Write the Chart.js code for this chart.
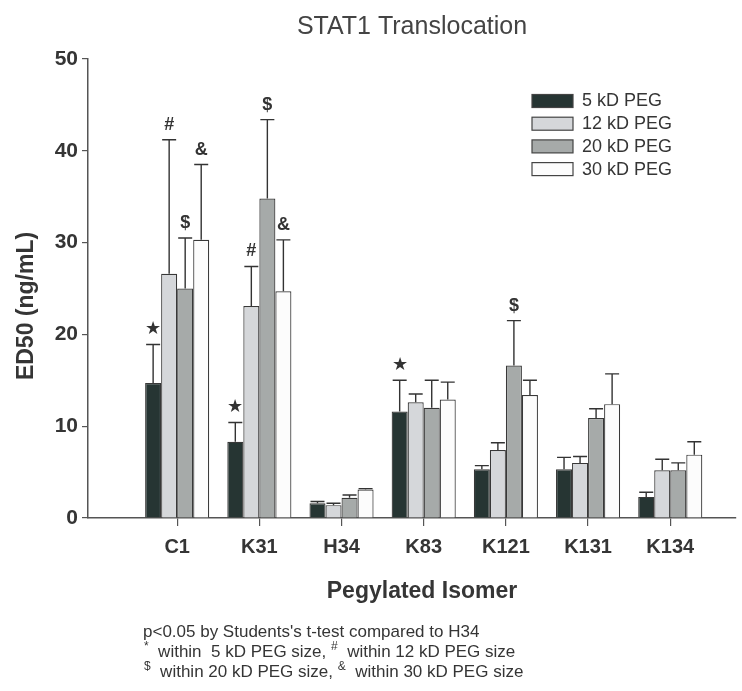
<!DOCTYPE html>
<html>
<head>
<meta charset="utf-8">
<script src="https://cdn.jsdelivr.net/npm/chart.js@4.4.1/dist/chart.umd.min.js"></script>
<style>
  html, body { margin: 0; padding: 0; background: #ffffff; }
  #wrap { width: 742px; height: 691px; }
</style>
</head>
<body>
<div id="wrap"><canvas id="c" width="742" height="691"></canvas></div>
<script>
// Pegylated isomers on the x axis
const isomers = ['C1', 'K31', 'H34', 'K83', 'K121', 'K131', 'K134'];
const seriesNames = ['5 kD PEG', '12 kD PEG', '20 kD PEG', '30 kD PEG'];

// ED50 means (ng/mL)
const ed50_5kD  = [14.7,  8.3, 1.6, 11.6,  5.3,  5.3, 2.3];
const ed50_12kD = [26.6, 23.1, 1.4, 12.6,  7.4,  6.0, 5.2];
const ed50_20kD = [25.0, 34.8, 2.2, 12.0, 16.6, 10.9, 5.2];
const ed50_30kD = [30.3, 24.7, 3.1, 12.9, 13.4, 12.4, 6.9];

// Upper error bar lengths (ng/mL)
const sd_5kD  = [ 4.2, 2.1, 0.2, 3.4, 0.4, 1.3, 0.5];
const sd_12kD = [14.6, 4.3, 0.2, 0.9, 0.8, 0.7, 1.2];
const sd_20kD = [ 5.5, 8.6, 0.3, 3.0, 4.9, 1.0, 0.8];
const sd_30kD = [ 8.2, 5.6, 0.1, 1.9, 1.6, 3.3, 1.4];

// Significance marks (p<0.05 vs H34)
const sig_5kD  = ['★', '★', '', '★', '', '', ''];
const sig_12kD = ['#', '#', '', '', '', '', ''];
const sig_20kD = ['$', '$', '', '', '$', '', ''];
const sig_30kD = ['&', '&', '', '', '', '', ''];

const yTicks = [0, 10, 20, 30, 40, 50];

const FONT = "'Liberation Sans', Arial, Helvetica, sans-serif";
const INK = '#353535';

const fills = ['#263533', '#d5d7da', '#a6aaa9', '#fcfcfc'];
const means = [ed50_5kD, ed50_12kD, ed50_20kD, ed50_30kD];
const errs = [sd_5kD, sd_12kD, sd_20kD, sd_30kD];
const marks = [sig_5kD, sig_12kD, sig_20kD, sig_30kD];

Chart.defaults.font.family = FONT;

const datasets = means.map((vals, s) => ({
  label: seriesNames[s],
  data: vals.map((v, i) => ({ x: i, y: v })),
  backgroundColor: fills[s],
  borderColor: '#383838',
  borderWidth: 1.2,
  borderSkipped: 'bottom',
  categoryPercentage: 0.78,
  barPercentage: 1.0
}));

// Error bars, significance marks, legend, axis titles and footnote
const extras = {
  id: 'extras',
  afterDatasetsDraw(chart) {
    const ctx = chart.ctx;
    const ys = chart.scales.y;
    ctx.save();
    ctx.strokeStyle = '#333333';
    ctx.lineWidth = 1.4;
    chart.data.datasets.forEach((ds, s) => {
      const meta = chart.getDatasetMeta(s);
      meta.data.forEach((bar, i) => {
        const top = ys.getPixelForValue(means[s][i] + errs[s][i]);
        const x = bar.x;
        ctx.beginPath();
        ctx.moveTo(x, bar.y);
        ctx.lineTo(x, top);
        ctx.moveTo(x - 7, top);
        ctx.lineTo(x + 7, top);
        ctx.stroke();
        const m = marks[s][i];
        if (m) {
          ctx.fillStyle = '#333333';
          ctx.textAlign = 'center';
          ctx.textBaseline = 'middle';
          ctx.font = (m === '★' ? '18px ' : 'bold 18px ') + FONT;
          ctx.fillText(m, x, top - 15);
        }
      });
    });
    ctx.restore();
  },
  afterDraw(chart) {
    const ctx = chart.ctx;
    ctx.save();
    // legend
    const lx = 532, ly0 = 94.5, lw = 41, lh = 13, step = 22.7;
    seriesNames.forEach((name, s) => {
      const y = ly0 + s * step;
      ctx.fillStyle = fills[s];
      ctx.fillRect(lx, y, lw, lh);
      ctx.strokeStyle = '#444444';
      ctx.lineWidth = 1.2;
      ctx.strokeRect(lx, y, lw, lh);
      ctx.fillStyle = INK;
      ctx.font = '18px ' + FONT;
      ctx.textAlign = 'left';
      ctx.textBaseline = 'middle';
      ctx.fillText(name, 582, y + lh / 2 + 0.5);
    });
    // axis titles
    ctx.fillStyle = INK;
    ctx.font = 'bold 23px ' + FONT;
    ctx.textAlign = 'center';
    ctx.textBaseline = 'middle';
    ctx.fillText('Pegylated Isomer', 422, 592);
    ctx.save();
    ctx.translate(27, 306);
    ctx.rotate(-Math.PI / 2);
    ctx.fillText('ED50 (ng/mL)', 0, 0);
    ctx.restore();
    // footnote
    const base = '17px ' + FONT, sup = '12px ' + FONT;
    ctx.textAlign = 'left';
    ctx.textBaseline = 'middle';
    const line = (parts, x, y) => {
      parts.forEach(([t, isSup]) => {
        ctx.font = isSup ? sup : base;
        ctx.fillText(t, x, isSup ? y - 5 : y);
        x += ctx.measureText(t).width;
      });
    };
    line([["p<0.05 by Students's t-test compared to H34", false]], 143, 632);
    line([['*', true], ['  within  5 kD PEG size, ', false], ['#', true], ['  within 12 kD PEG size', false]], 144, 652);
    line([['$', true], ['  within 20 kD PEG size, ', false], ['&', true], ['  within 30 kD PEG size', false]], 144, 672);
    ctx.restore();
  }
};

new Chart(document.getElementById('c'), {
  type: 'bar',
  data: { datasets },
  options: {
    responsive: false,
    animation: false,
    devicePixelRatio: 1,
    layout: { padding: { top: 0, left: 0, right: 6, bottom: 0 } },
    plugins: {
      legend: { display: false },
      tooltip: { enabled: false },
      title: {
        display: true,
        text: 'STAT1 Translocation',
        color: '#444444',
        fullSize: false,
        font: { size: 25, weight: 'normal', family: FONT },
        padding: { top: 12, bottom: 17 }
      }
    },
    scales: {
      x: {
        type: 'linear',
        min: -1.085,
        max: 6.8,
        offset: false,
        afterFit(scale) { scale.height = 173; },
        afterBuildTicks(scale) {
          scale.ticks = isomers.map((n, i) => ({ value: i }));
        },
        ticks: {
          stepSize: 1,
          includeBounds: false,
          autoSkip: false,
          maxRotation: 0,
          padding: 9,
          color: INK,
          font: { size: 20, weight: 'bold', family: FONT },
          callback: v => isomers[v]
        },
        grid: { drawOnChartArea: false, offset: false, tickLength: 8, color: '#555555', lineWidth: 1.2 },
        border: { color: '#555555', width: 1.5 }
      },
      y: {
        min: 0,
        max: 50,
        afterFit(scale) { scale.width = 88; },
        afterBuildTicks(scale) { scale.ticks = yTicks.map(v => ({ value: v })); },
        ticks: {
          padding: 4,
          color: INK,
          font: { size: 21, weight: 'bold', family: FONT }
        },
        grid: { drawOnChartArea: false, tickLength: 6, color: '#555555', lineWidth: 1.2 },
        border: { color: '#555555', width: 1.5 }
      }
    }
  },
  plugins: [extras]
});
</script>
</body>
</html>
